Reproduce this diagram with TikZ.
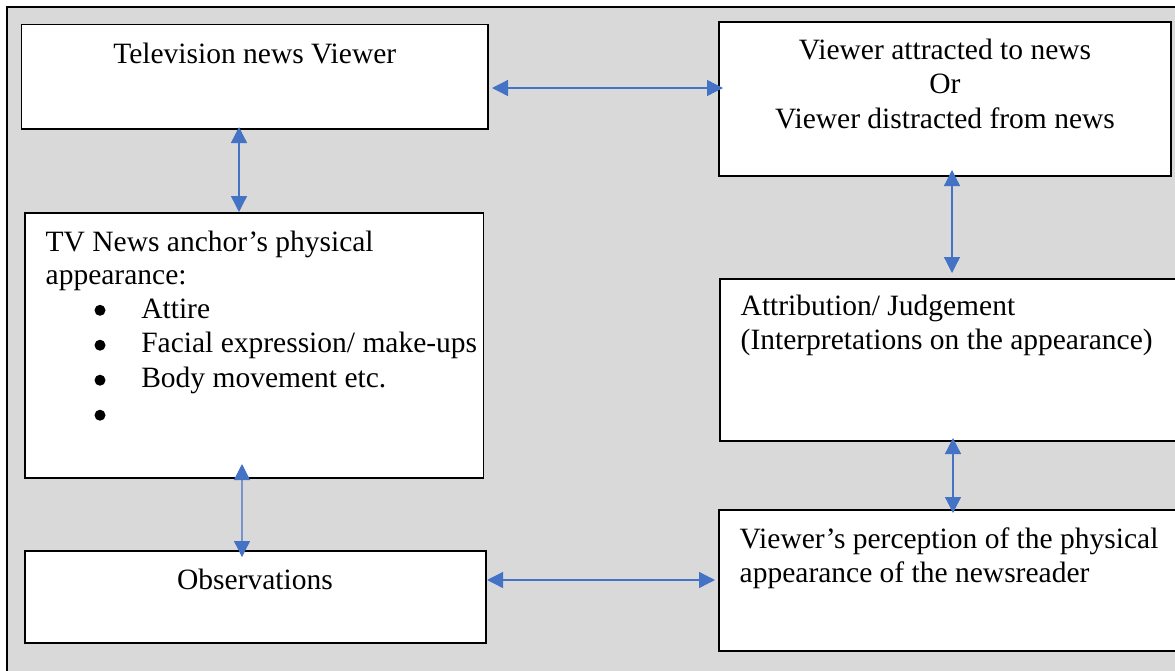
\documentclass[tikz,border=0pt]{standalone}
\usepackage{fontspec}
\setmainfont{Liberation Serif}
\usetikzlibrary{arrows.meta}
\definecolor{frameGray}{HTML}{D9D9D9}
\definecolor{arrBlue}{HTML}{4472C4}
\begin{document}
\begin{tikzpicture}[x=1pt,y=-1pt,
  box/.style={draw=black, line width=1.6pt, fill=white, anchor=north west, inner sep=0pt, outer sep=0pt},
  txt/.style={inner sep=0pt, outer sep=0pt, font=\fontsize{29.5}{34.5}\selectfont},
  dot/.style={circle, fill=black, inner sep=0pt, minimum size=11pt},
  biarrow/.style={draw=arrBlue, line width=1.3pt, {Triangle[length=16pt,width=16pt]}-{Triangle[length=16pt,width=16pt]}}]
\clip (0,0) rectangle (1175,670);
\fill[white] (0,0) rectangle (1175,670);
% outer frame
\draw[line width=2.4pt, fill=frameGray] (7,7) rectangle (1190,690);
% boxes
\node[box, minimum width=466.5pt, minimum height=104.5pt] (viewer) at (21.5,24.5) {};
\node[box, minimum width=452pt, minimum height=154pt] (attract) at (719,22) {};
\node[box, minimum width=458.5pt, minimum height=265pt] (anchor) at (25,213) {};
\node[box, minimum width=480pt, minimum height=162pt] (attrib) at (720,279) {};
\node[box, minimum width=480pt, minimum height=141pt] (percep) at (719,510) {};
\node[box, minimum width=460.7pt, minimum height=92pt] (observ) at (25,551) {};
% texts
\node[txt, anchor=base] (t1) at (254.75,63) {Television news Viewer};
\node[txt, anchor=base] (t2a) at (945,59) {Viewer attracted to news};
\node[txt, anchor=base] (t2b) at (945,93) {Or};
\node[txt, anchor=base] (t2c) at (945,128) {Viewer distracted from news};
\node[txt, anchor=base west] (t3a) at (45.7,251) {TV News anchor’s physical};
\node[txt, anchor=base west] (t3b) at (45.7,284.7) {appearance:};
\node[dot] (b1) at (100,310.3) {};
\node[txt, anchor=base west] (i1) at (141.3,318) {Attire};
\node[dot] (b2) at (100,345.2) {};
\node[txt, anchor=base west] (i2) at (141.3,352.7) {Facial expression/ make-ups};
\node[dot] (b3) at (100,380.2) {};
\node[txt, anchor=base west] (i3) at (141.3,387.7) {Body movement etc.};
\node[dot] (b4) at (100,415.2) {};
\node[txt, anchor=base west] (t4a) at (740.7,315.7) {Attribution/ Judgement};
\node[txt, anchor=base west] (t4b) at (740.7,349.5) {(Interpretations on the appearance)};
\node[txt, anchor=base west] (t5a) at (739.7,548.3) {Viewer’s perception of the physical};
\node[txt, anchor=base west] (t5b) at (739.7,582) {appearance of the newsreader};
\node[txt, anchor=base] (t6) at (255,589) {Observations};
% connectors
\draw[biarrow] ([xshift=-15.75pt,yshift=2pt]viewer.south) -- ([xshift=-15.25pt,yshift=1pt]anchor.north);
\draw[biarrow] ([xshift=-12.25pt,yshift=14pt]anchor.south) -- ([xshift=-13.35pt,yshift=-6pt]observ.north);
\draw[biarrow] ([xshift=4pt,yshift=-11.25pt]viewer.east) -- ([xshift=4pt,yshift=11pt]attract.west);
\draw[biarrow] ([xshift=7pt,yshift=6pt]attract.south) -- ([xshift=-8pt,yshift=6pt]attrib.north);
\draw[biarrow] ([xshift=-7pt,yshift=3pt]attrib.south) -- ([xshift=-6pt,yshift=-3pt]percep.north);
\draw[biarrow] ([xshift=1.3pt,yshift=17pt]observ.east) -- ([xshift=-4pt,yshift=0.5pt]percep.west);
\end{tikzpicture}
\end{document}
